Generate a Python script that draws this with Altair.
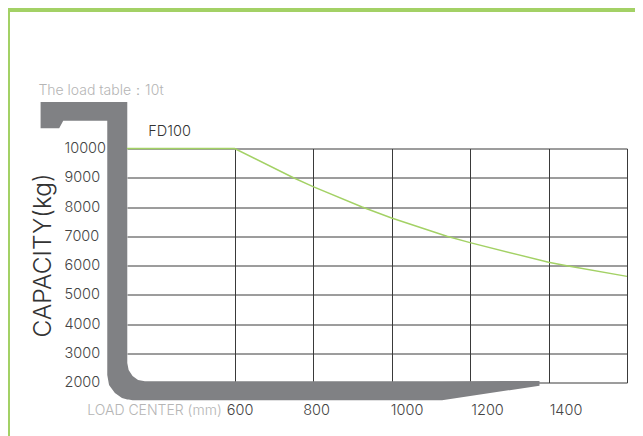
import altair as alt
import pandas as pd

# load curve
curve_x = [325.8, 600, 750, 800, 925, 1000, 1141, 1200, 1400, 1443, 1600]
curve_y = [10000, 10000, 9000, 8694, 8000, 7624, 7000, 6780, 6110, 6000, 5630]

x_ticks = [600, 800, 1000, 1200, 1400, 1600]
y_ticks = [2000, 3000, 4000, 5000, 6000, 7000, 8000, 9000, 10000]

# fork silhouette, in chart units
fork_x = [105.6, 153, 163.3, 275.5, 275.5, 280, 295, 313, 326.5, 326.5, 330, 340, 354, 371.6, 1128.6, 1377]
fork_top = [11590, 11590, 11590, 11590, 11590, 11590, 11590, 11590, 11590, 2667, 2427, 2222, 2085, 2041, 2041, 2051]
fork_bot = [10691, 10691, 10951, 10951, 2256, 1915, 1641, 1470, 1420, 1420, 1419, 1391, 1391, 1391, 1391, 1891]

GREEN = "#a3d165"
FONT = "Inter"

xs = alt.Scale(domain=[325.8, 1600], nice=False, zero=False)
ys = alt.Scale(domain=[2000, 10000], nice=False, zero=False)

x_axis = alt.Axis(
    values=x_ticks, tickCount=6, grid=True, gridColor="#3a3a3a", gridWidth=1, gridOpacity=1,
    domain=False, ticks=False,
    labelExpr="datum.value == 1600 ? '' : datum.label",
    labelFont=FONT, labelFontSize=14.5, labelFontWeight=300, labelColor="#444444", labelPadding=21,
    labelOffset=alt.expr("datum.value == 600 ? 5 : datum.value == 800 ? 3 : datum.value == 1000 ? 15 : datum.value == 1200 ? 17 : 17"),
    labelFlush=False, labelOverlap=False,
    format="d",
    titleFont=FONT, titleFontSize=14, titleFontWeight=300, titleColor="#b5b5b5",
    titleX=27, titleY=21)
y_axis = alt.Axis(
    values=y_ticks, tickCount=9, grid=True, gridColor="#3a3a3a", gridWidth=1, gridOpacity=1,
    domain=False, ticks=False, format="d", labelOverlap=False,
    labelFont=FONT, labelFontSize=14.5, labelFontWeight=300, labelColor="#444444", labelAlign="left", labelPadding=63,
    titleFont=FONT, titleFontSize=24.5, titleFontWeight=300, titleColor="#333333",
    titleX=-72, titleY=106.5)

X_T = "LOAD CENTER (mm)"
Y_T = "CAPACITY(kg)"


def ex(f="x:Q"):
    return alt.X(f, scale=xs, title=X_T, axis=x_axis)


def ey(f="y:Q"):
    return alt.Y(f, scale=ys, title=Y_T, axis=y_axis)


curve = pd.DataFrame({"x": curve_x, "y": curve_y})
fork = pd.DataFrame({"x": fork_x, "top": fork_top, "bot": fork_bot})

fork_mark = alt.Chart(fork).mark_area(color="#808184", clip=False, orient="vertical").encode(
    x=ex(), y=ey("top:Q"), y2=alt.Y2("bot:Q"))

line = alt.Chart(curve).mark_line(color=GREEN, strokeWidth=1.4).encode(x=ex(), y=ey())

model = alt.Chart(pd.DataFrame({"t": ["FD100"], "x": [380], "y": [10550]})).mark_text(
    font=FONT, fontSize=14.5, fontWeight=300, color="#333333", align="left", baseline="middle").encode(
    x=ex(), y=ey(), text="t:N")

heading = alt.Chart(pd.DataFrame({"t": ["The load table：10t"], "x": [100], "y": [11950]})).mark_text(
    font=FONT, fontSize=14, fontWeight=300, color="#b5b5b5", align="left", baseline="middle").encode(
    x=ex(), y=ey(), text="t:N")

frame_top = alt.Chart(pd.DataFrame({"a": [0]})).mark_rule(color=GREEN, strokeWidth=4).encode(
    x=alt.value(-119), x2=alt.value(508), y=alt.value(-138.5))
frame_left = alt.Chart(pd.DataFrame({"a": [0]})).mark_rule(color=GREEN, strokeWidth=2).encode(
    x=alt.value(-118), y=alt.value(-140.5), y2=alt.value(287.5))

chart = alt.layer(fork_mark, line, model, heading, frame_top, frame_left).properties(
    width=500, height=234,
    padding={"left": 119, "top": 140.5, "right": 8, "bottom": 53.5},
    autosize=alt.AutoSizeParams(type="none"),
    background="white",
).configure_view(stroke=None)

chart.save("out.html", embed_options={"renderer": "svg", "actions": False})
